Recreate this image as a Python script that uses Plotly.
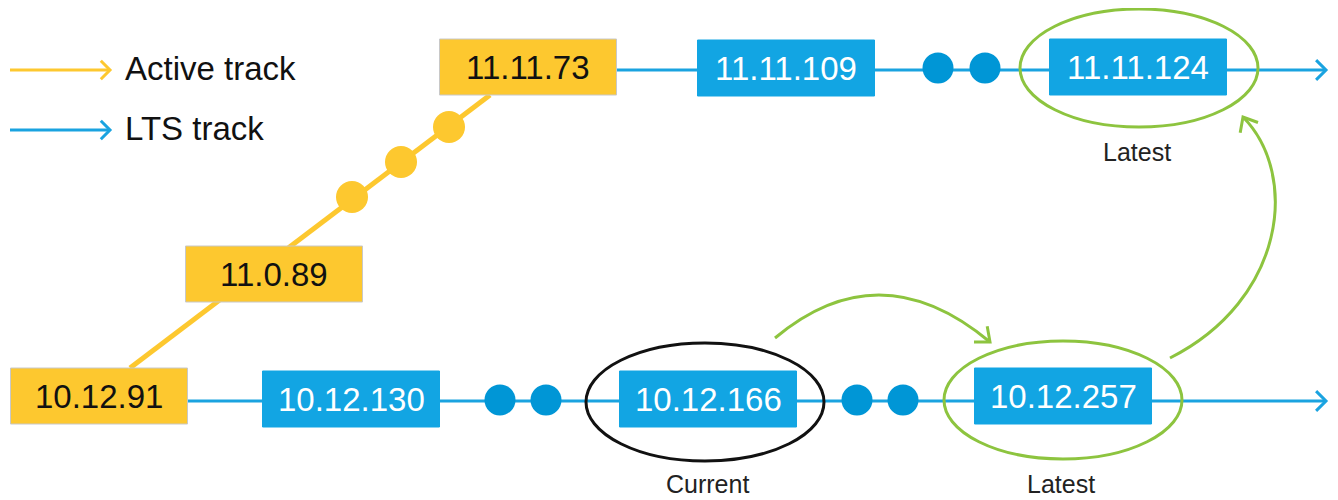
import math
import plotly.graph_objects as go

# ---- content ----
active_labels = ["10.12.91", "11.0.89", "11.11.73"]
lts_top_labels = ["11.11.109", "11.11.124"]
lts_bottom_labels = ["10.12.130", "10.12.166", "10.12.257"]
legend_labels = ["Active track", "LTS track"]
callout_labels = ["Current", "Latest", "Latest"]

# ---- layout (pixel canvas; page body has an 8px margin) ----
W, H = 1338, 500
PAD = 8
YELLOW = "#FDC82F"
BLUE = "#12A5E3"
BLUE_LINE = "#1AA3E0"
BLUE_DOT = "#0096D6"
GREEN = "#8DC43F"
FONT = "Liberation Sans, Arial, sans-serif"

BOX_W, BOX_H = 177, 56
active_pos = [(99, 396), (274, 274), (528, 67)]
top_pos = [(786, 68), (1138, 67)]
bottom_pos = [(351, 399), (708, 399), (1063, 396)]
TOP_Y, BOT_Y = 70, 401
yellow_dots = [(352, 197), (401, 162), (449, 127)]
top_dots = [(938, 68), (985, 68)]
bottom_dots = [(500, 400), (546, 400), (857, 400), (903, 400)]

fig = go.Figure()

def chevron(tip, direction, length=16, ang=38):
    dx, dy = direction
    n = math.hypot(dx, dy)
    bx, by = -dx / n, -dy / n
    pts = []
    for s in (1, -1):
        a = math.radians(ang * s)
        rx = bx * math.cos(a) - by * math.sin(a)
        ry = bx * math.sin(a) + by * math.cos(a)
        pts.append((tip[0] + rx * length, tip[1] + ry * length))
    return f"M {pts[0][0]:.1f} {pts[0][1]:.1f} L {tip[0]} {tip[1]} L {pts[1][0]:.1f} {pts[1][1]:.1f}"

shapes = []
annotations = []

# track lines
fig.add_trace(go.Scatter(x=[130, 490], y=[368, 95], mode="lines",
                         line=dict(color=YELLOW, width=5), hoverinfo="skip"))
fig.add_trace(go.Scatter(x=[617, 1326], y=[TOP_Y, TOP_Y], mode="lines",
                         line=dict(color=BLUE_LINE, width=3), hoverinfo="skip"))
fig.add_trace(go.Scatter(x=[188, 1326], y=[BOT_Y, BOT_Y], mode="lines",
                         line=dict(color=BLUE_LINE, width=3), hoverinfo="skip"))
shapes.append(dict(type="path", path=chevron((1326, TOP_Y), (1, 0), 14, 45), xref="x", yref="y",
                   line=dict(color=BLUE_LINE, width=3)))
shapes.append(dict(type="path", path=chevron((1326, BOT_Y), (1, 0), 14, 45), xref="x", yref="y",
                   line=dict(color=BLUE_LINE, width=3)))

# dots
fig.add_trace(go.Scatter(x=[p[0] for p in yellow_dots], y=[p[1] for p in yellow_dots], mode="markers",
                         marker=dict(color=YELLOW, size=32, line=dict(width=0)), hoverinfo="skip"))
fig.add_trace(go.Scatter(x=[p[0] for p in top_dots + bottom_dots], y=[p[1] for p in top_dots + bottom_dots],
                         mode="markers", marker=dict(color=BLUE_DOT, size=31, line=dict(width=0)),
                         hoverinfo="skip"))

# legend
legend_y = [70, 130]
legend_cols = [YELLOW, BLUE_LINE]
for lab, y, c in zip(legend_labels, legend_y, legend_cols):
    shapes.append(dict(type="line", x0=10, x1=110, y0=y, y1=y, xref="x", yref="y",
                       line=dict(color=c, width=3)))
    shapes.append(dict(type="path", path=chevron((110, y), (1, 0), 13, 45), xref="x", yref="y",
                       line=dict(color=c, width=3)))
    annotations.append(dict(x=123, y=y - 2, text=lab, showarrow=False, xanchor="left", yanchor="middle",
                            font=dict(family=FONT, size=33, color="#111111")))

# boxes
def box(center, label, fill, txt):
    cx, cy = center
    shapes.append(dict(type="rect", x0=cx - BOX_W / 2, x1=cx + BOX_W / 2, y0=cy - BOX_H / 2,
                       y1=cy + BOX_H / 2, xref="x", yref="y", fillcolor=fill,
                       line=dict(color="#C8C8C8" if fill == YELLOW else fill, width=1), layer="above"))
    annotations.append(dict(x=cx, y=cy, text=label, showarrow=False, xanchor="center", yanchor="middle",
                            font=dict(family=FONT, size=33, color=txt)))

for lab, p in zip(active_labels, active_pos):
    box(p, lab, YELLOW, "#111111")
for lab, p in zip(lts_top_labels, top_pos):
    box(p, lab, BLUE, "white")
for lab, p in zip(lts_bottom_labels, bottom_pos):
    box(p, lab, BLUE, "white")

# ellipses
ellipses = [((705, 402), "#111111"), ((1063, 400), GREEN), ((1139, 68), GREEN)]
for (cx, cy), c in ellipses:
    shapes.append(dict(type="circle", x0=cx - 119, x1=cx + 119, y0=cy - 59, y1=cy + 59, xref="x", yref="y",
                       line=dict(color=c, width=3), layer="above"))

callout_pos = [(707, 484), (1061, 484), (1137, 152)]
for lab, (x, y) in zip(callout_labels, callout_pos):
    annotations.append(dict(x=x, y=y, text=lab, showarrow=False, xanchor="center", yanchor="middle",
                            font=dict(family=FONT, size=25, color="#222222")))

# green curved arrows
shapes.append(dict(type="path", path="M 775 338 Q 880 250 990 342", xref="x", yref="y",
                   line=dict(color=GREEN, width=3)))
shapes.append(dict(type="path", path=chevron((990, 342), (110, 92), 16, 40), xref="x", yref="y",
                   line=dict(color=GREEN, width=3)))
shapes.append(dict(type="path", path="M 1170 358 C 1285 300 1300 175 1243 117", xref="x", yref="y",
                   line=dict(color=GREEN, width=3)))
shapes.append(dict(type="path", path=chevron((1243, 117), (-40, -70), 16, 40), xref="x", yref="y",
                   line=dict(color=GREEN, width=3)))

fig.update_layout(
    width=W - PAD, height=H - PAD, margin=dict(l=0, r=0, t=0, b=0),
    paper_bgcolor="white", plot_bgcolor="white", showlegend=False,
    xaxis=dict(range=[PAD, W], visible=False, fixedrange=True),
    yaxis=dict(range=[H, PAD], visible=False, fixedrange=True),
    shapes=shapes, annotations=annotations,
)
fig.write_html("out.html")
